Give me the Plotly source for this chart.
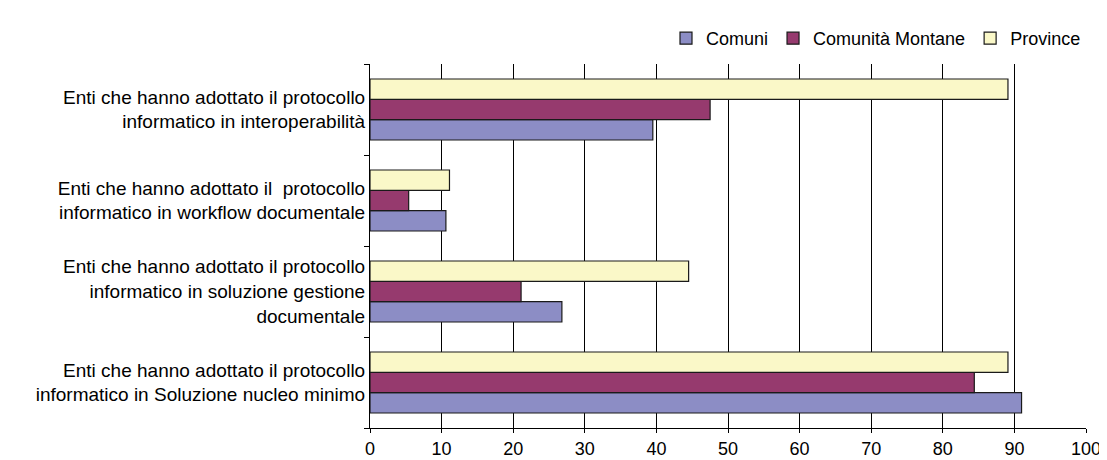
import plotly.graph_objects as go

categories = [
    "Enti che hanno adottato il protocollo<br>informatico in Soluzione nucleo minimo",
    "Enti che hanno adottato il protocollo<br>informatico in soluzione gestione<br>documentale",
    "Enti che hanno adottato il  protocollo<br>informatico in workflow documentale",
    "Enti che hanno adottato il protocollo<br>informatico in interoperabilità",
]
series_names = ["Comuni", "Comunità Montane", "Province"]
comuni = [91.0, 26.8, 10.6, 39.5]
comunita_montane = [84.4, 21.1, 5.4, 47.5]
province = [89.1, 44.5, 11.1, 89.1]
x_ticks = [0, 10, 20, 30, 40, 50, 60, 70, 80, 90, 100]

colors = ["#8C8DC5", "#963A6E", "#FAF8C8"]
values = [comuni, comunita_montane, province]

fig = go.Figure()
for name, vals, col in zip(series_names, values, colors):
    fig.add_trace(go.Bar(
        y=categories, x=vals, name=name, orientation="h",
        marker=dict(color=col, line=dict(color="#1a1a1a", width=1.2)),
    ))

# page body has an 8px margin, so the figure is sized to fit the window
fig.update_layout(
    width=1099, height=452,
    margin=dict(l=362, r=21, t=39, b=32),
    barmode="group", bargap=0.33, bargroupgap=0,
    paper_bgcolor="white", plot_bgcolor="white",
    font=dict(family="Liberation Sans, Arial, sans-serif", size=19, color="black"),
    showlegend=True,
    legend=dict(orientation="h", x=1.0, xanchor="right", y=1.07, yanchor="middle",
                font=dict(size=18), traceorder="normal", itemwidth=30,
                bgcolor="rgba(0,0,0,0)", tracegroupgap=0),
    xaxis=dict(range=[0, 100], tickvals=x_ticks, showgrid=True, gridcolor="black",
               gridwidth=1, showline=True, linecolor="black", linewidth=1,
               ticks="outside", ticklen=4, tickcolor="black", zeroline=False,
               tickfont=dict(size=18), automargin=False),
    yaxis=dict(showline=True, linecolor="black", linewidth=1, showgrid=False,
               ticks="outside", tickson="boundaries", ticklen=5, tickcolor="black",
               tickfont=dict(size=19), zeroline=False, automargin=False),
)
fig.write_html("out.html")
